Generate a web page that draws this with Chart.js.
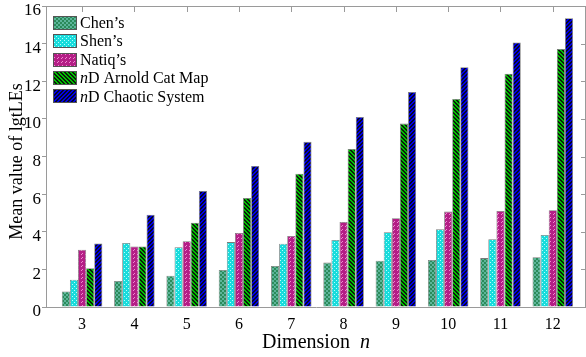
<!DOCTYPE html>
<html>
<head>
<meta charset="utf-8">
<script src="https://cdn.jsdelivr.net/npm/chart.js@4/dist/chart.umd.min.js"></script>
<style>
  html, body { margin: 0; padding: 0; background: #fff; }
  #wrap { width: 586px; height: 357px; }
</style>
</head>
<body>
<div id="wrap"><canvas id="c" width="586" height="357"></canvas></div>
<script>
// ---- data ----
const dims = [3, 4, 5, 6, 7, 8, 9, 10, 11, 12];
const seriesNames = ["Chen\u2019s", "Shen\u2019s", "Natiq\u2019s", "nD Arnold Cat Map", "nD Chaotic System"];
const chen    = [0.82, 1.38, 1.66, 1.97, 2.18, 2.36, 2.46, 2.50, 2.60, 2.65];
const shen    = [1.45, 3.40, 3.18, 3.45, 3.36, 3.56, 3.97, 4.13, 3.60, 3.83];
const natiq   = [3.04, 3.22, 3.50, 3.93, 3.78, 4.52, 4.72, 5.07, 5.10, 5.14];
const arnold  = [2.06, 3.22, 4.48, 5.80, 7.08, 8.40, 9.75, 11.06, 12.40, 13.72];
const chaotic = [3.38, 4.90, 6.17, 7.50, 8.78, 10.10, 11.43, 12.75, 14.06, 15.35];
const yTicks  = [0, 2, 4, 6, 8, 10, 12, 14, 16];

// ---- patterns ----
function makeTile(size, bg, fg, test) {
  const t = document.createElement('canvas');
  t.width = size; t.height = size;
  const g = t.getContext('2d');
  g.fillStyle = bg; g.fillRect(0, 0, size, size);
  g.fillStyle = fg;
  for (let y = 0; y < size; y++) for (let x = 0; x < size; x++) if (test(x, y)) g.fillRect(x, y, 1, 1);
  return document.getElementById('c').getContext('2d').createPattern(t, 'repeat');
}
const pats = [
  makeTile(4, '#2b8a5a', '#5cb59a', (x, y) => ((Math.floor(x / 2) + Math.floor(y / 2)) % 2 === 0)),
  makeTile(4, '#18dcdc', '#b5ffff', (x, y) => (x === 0 && y === 0) || (x === 2 && y === 2)),
  makeTile(4, '#b41e86', '#f08ad0', (x, y) => (x === 1 && y === 2) || (x === 2 && y === 1)),
  makeTile(4, '#00c000', '#0a1c0a', (x, y) => (((x - y) % 4 + 4) % 4) < 2),
  makeTile(4, '#0000e6', '#06062a', (x, y) => ((x + y) % 4) < 2)
];
const seriesData = [chen, shen, natiq, arnold, chaotic];

const LEFT = 46, TOP = 6, BOTTOM = 307;

const framePlugin = {
  id: 'frame',
  afterDraw(chart) {
    const ctx = chart.ctx;
    const a = chart.chartArea;
    const xs = chart.scales.x, ys = chart.scales.y;
    ctx.save();
    ctx.strokeStyle = '#9a9a9a';
    ctx.lineWidth = 1;
    ctx.beginPath();
    ctx.moveTo(a.left, a.top + 0.5); ctx.lineTo(a.right, a.top + 0.5);
    ctx.moveTo(a.right - 0.5, a.top); ctx.lineTo(a.right - 0.5, a.bottom);
    dims.forEach(d => {
      const px = Math.round(xs.getPixelForValue(d)) + 0.5;
      ctx.moveTo(px, a.top); ctx.lineTo(px, a.top + 6);
    });
    yTicks.forEach(v => {
      const py = Math.round(ys.getPixelForValue(v)) + 0.5;
      ctx.moveTo(a.right - 5, py); ctx.lineTo(a.right, py);
    });
    ctx.stroke();

    // legend
    ctx.textBaseline = 'middle';
    ctx.textAlign = 'left';
    seriesNames.forEach((name, i) => {
      const cy = 22.7 + 18.4 * i;
      ctx.fillStyle = pats[i];
      ctx.fillRect(53, Math.round(cy - 7), 24, 14);
      ctx.strokeStyle = '#555';
      ctx.strokeRect(53.5, Math.round(cy - 7) + 0.5, 23, 13);
      ctx.fillStyle = '#000';
      let x = 80;
      if (name.startsWith('nD')) {
        ctx.font = 'italic 16px "Liberation Serif"';
        ctx.fillText('n', x, cy + 1);
        x += ctx.measureText('n').width;
        ctx.font = '16px "Liberation Serif"';
        ctx.fillText(name.slice(1), x, cy + 1);
      } else {
        ctx.font = '16px "Liberation Serif"';
        ctx.fillText(name, x, cy + 1);
      }
    });

    // axis titles
    ctx.fillStyle = '#000';
    ctx.font = '18px "Liberation Serif"';
    ctx.textAlign = 'center';
    ctx.save();
    ctx.translate(17, (a.top + a.bottom) / 2 + 5);
    ctx.rotate(-Math.PI / 2);
    ctx.fillText('Mean value of lgtLEs', 0, 0);
    ctx.restore();

    ctx.font = '20px "Liberation Serif"';
    const t1 = 'Dimension', gap = '  ';
    ctx.textAlign = 'left';
    const w1 = ctx.measureText(t1 + gap).width;
    ctx.font = 'italic 20px "Liberation Serif"';
    const w2 = ctx.measureText('n').width;
    const cx = (a.left + a.right) / 2;
    let sx = cx - (w1 + w2) / 2;
    ctx.font = '20px "Liberation Serif"';
    ctx.fillText(t1, sx, 343);
    ctx.font = 'italic 20px "Liberation Serif"';
    ctx.fillText('n', sx + w1, 343);
    ctx.restore();
  }
};

new Chart(document.getElementById('c'), {
  type: 'bar',
  data: {
    datasets: seriesNames.map((n, i) => ({
      label: n,
      data: dims.map((d, j) => ({ x: d, y: seriesData[i][j] })),
      backgroundColor: pats[i],
      borderColor: '#7a7a7a',
      borderWidth: 0.8
    }))
  },
  options: {
    responsive: false,
    animation: false,
    devicePixelRatio: 1,
    layout: { padding: { top: TOP, right: 0, left: 0, bottom: 0 } },
    categoryPercentage: 0.775,
    barPercentage: 1.0,
    plugins: { legend: { display: false }, tooltip: { enabled: false }, title: { display: false } },
    scales: {
      x: {
        type: 'linear',
        offset: false,
        min: 2.31,
        max: 12.635,
        afterBuildTicks(scale) { scale.ticks = dims.map(v => ({ value: v })); },
        afterFit(scale) { scale.height = 357 - BOTTOM; scale.paddingLeft = 0; scale.paddingRight = 0; },
        grid: { display: false },
        border: { display: true, color: '#9a9a9a' },
        ticks: { color: '#000', font: { family: 'Liberation Serif', size: 16 }, padding: 0, maxRotation: 0, autoSkip: false, callback: v => String(v) }
      },
      y: {
        min: 0,
        max: 16,
        afterBuildTicks(scale) { scale.ticks = yTicks.map(v => ({ value: v })); },
        afterFit(scale) { scale.width = LEFT; scale.paddingTop = 0; scale.paddingBottom = 0; },
        grid: { drawOnChartArea: false, drawTicks: true, tickLength: 4, color: '#9a9a9a' },
        border: { display: true, color: '#9a9a9a' },
        ticks: { color: '#000', font: { family: 'Liberation Serif', size: 17 }, padding: 1, labelOffset: 5, callback: v => String(v) }
      }
    }
  },
  plugins: [framePlugin]
});
</script>
</body>
</html>
